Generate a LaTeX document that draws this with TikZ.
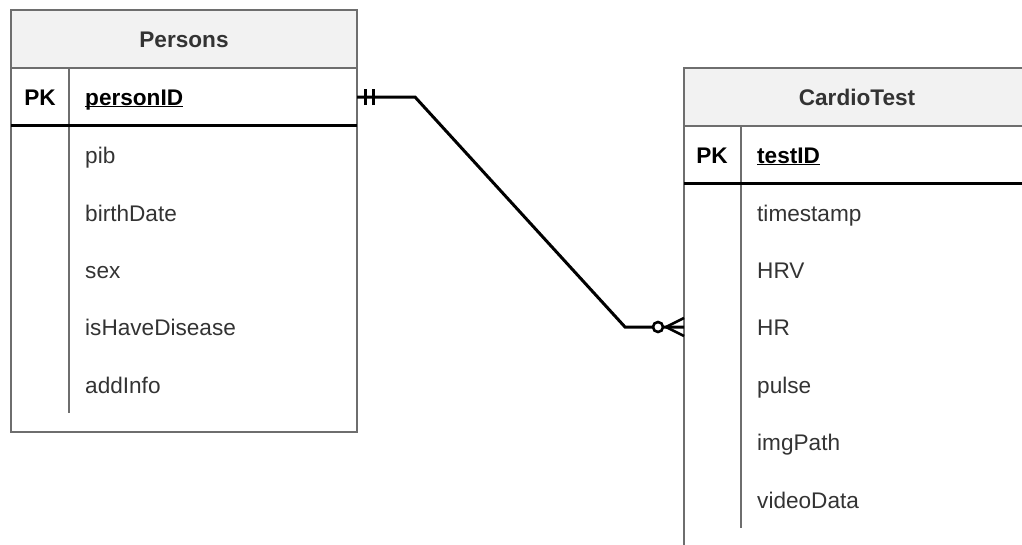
\documentclass[tikz,border=0pt]{standalone}
\usepackage{fontspec}
\setmainfont{Liberation Sans}
\definecolor{bordergray}{HTML}{6E6E6E}
\definecolor{headfill}{HTML}{F2F2F2}
\definecolor{txt}{HTML}{333333}
\tikzset{
  tbox/.style={draw=bordergray, line width=2.5pt},
  thead/.style={fill=headfill},
  sep/.style={draw=bordergray, line width=2.5pt},
  pkline/.style={draw=black, line width=3pt},
  ttitle/.style={font=\fontsize{22.6}{27}\selectfont\bfseries, text=txt, inner sep=0pt, text height=16.3pt, text depth=0pt},
  tfield/.style={font=\fontsize{22.6}{27}\selectfont, text=txt, inner sep=0pt, anchor=west, text height=16.3pt, text depth=0pt},
  tkey/.style={font=\fontsize{22.6}{27}\selectfont\bfseries, text=black, inner sep=0pt, anchor=west, text height=16.3pt, text depth=0pt},
  tpk/.style={font=\fontsize{22.6}{27}\selectfont\bfseries, text=black, inner sep=0pt, text height=16.3pt, text depth=0pt},
  rel/.style={line width=3pt, black}
}
\begin{document}
\begin{tikzpicture}[x=1pt,y=-1pt]
\useasboundingbox (0,0) rectangle (1022,544);
\clip (0,0) rectangle (1022,544);

% ---------- Persons ----------
\fill[thead] (11,10) rectangle (357,68);
\draw[tbox] (11,10) rectangle (357,432);
\draw[sep] (11,68) -- (357,68);
\draw[sep] (69,68) -- (69,413);
\draw[pkline] (11,125) -- (357,125);
\node[ttitle] (ptitle) at (184,39) {Persons};
\node[tpk] (ppk) at (40,97) {PK};
\node[tkey] (pid) at (85,97) {personID};
\draw[black, line width=1.6pt] ([yshift=-1pt]pid.south west) -- ([yshift=-1pt]pid.south east);
\node[tfield] (pib) at (85,155) {pib};
\node[tfield] (pbd) at (85,213) {birthDate};
\node[tfield] (psex) at (85,270) {sex};
\node[tfield] (pdis) at (85,327) {isHaveDisease};
\node[tfield] (padd) at (85,385) {addInfo};
\coordinate (pidE) at (357,97);

% ---------- CardioTest ----------
\fill[thead] (684,68) rectangle (1030,126);
\draw[tbox] (684,68) rectangle (1030,548);
\draw[sep] (684,126) -- (1030,126);
\draw[sep] (741,126) -- (741,528);
\draw[pkline] (684,183) -- (1030,183);
\node[ttitle] (ctitle) at (857,97) {CardioTest};
\node[tpk] (cpk) at (712,155) {PK};
\node[tkey] (tid) at (757,155) {testID};
\draw[black, line width=1.6pt] ([yshift=-1pt]tid.south west) -- ([yshift=-1pt]tid.south east);
\node[tfield] (cts) at (757,213) {timestamp};
\node[tfield] (chrv) at (757,270) {HRV};
\node[tfield] (chr) at (757,327) {HR};
\node[tfield] (cpulse) at (757,385) {pulse};
\node[tfield] (cimg) at (757,442) {imgPath};
\node[tfield] (cvid) at (757,500) {videoData};
\coordinate (hrW) at (684,327);

% ---------- relationship ----------
\draw[rel] (pidE) -- ([xshift=58pt]pidE) -- ([xshift=-59pt]hrW) -- (hrW);
% one-and-only-one
\draw[rel] ([xshift=8pt,yshift=-8pt]pidE) -- ([xshift=8pt,yshift=8pt]pidE);
\draw[rel] ([xshift=16pt,yshift=-8pt]pidE) -- ([xshift=16pt,yshift=8pt]pidE);
% zero-or-many
\draw[line width=2.6pt, black] ([xshift=-18pt]hrW) -- ([yshift=-9pt]hrW);
\draw[line width=2.6pt, black] ([xshift=-18pt]hrW) -- ([yshift=9pt]hrW);
\draw[line width=2.6pt, black, fill=white] ([xshift=-26pt]hrW) circle (5pt);
\end{tikzpicture}
\end{document}
